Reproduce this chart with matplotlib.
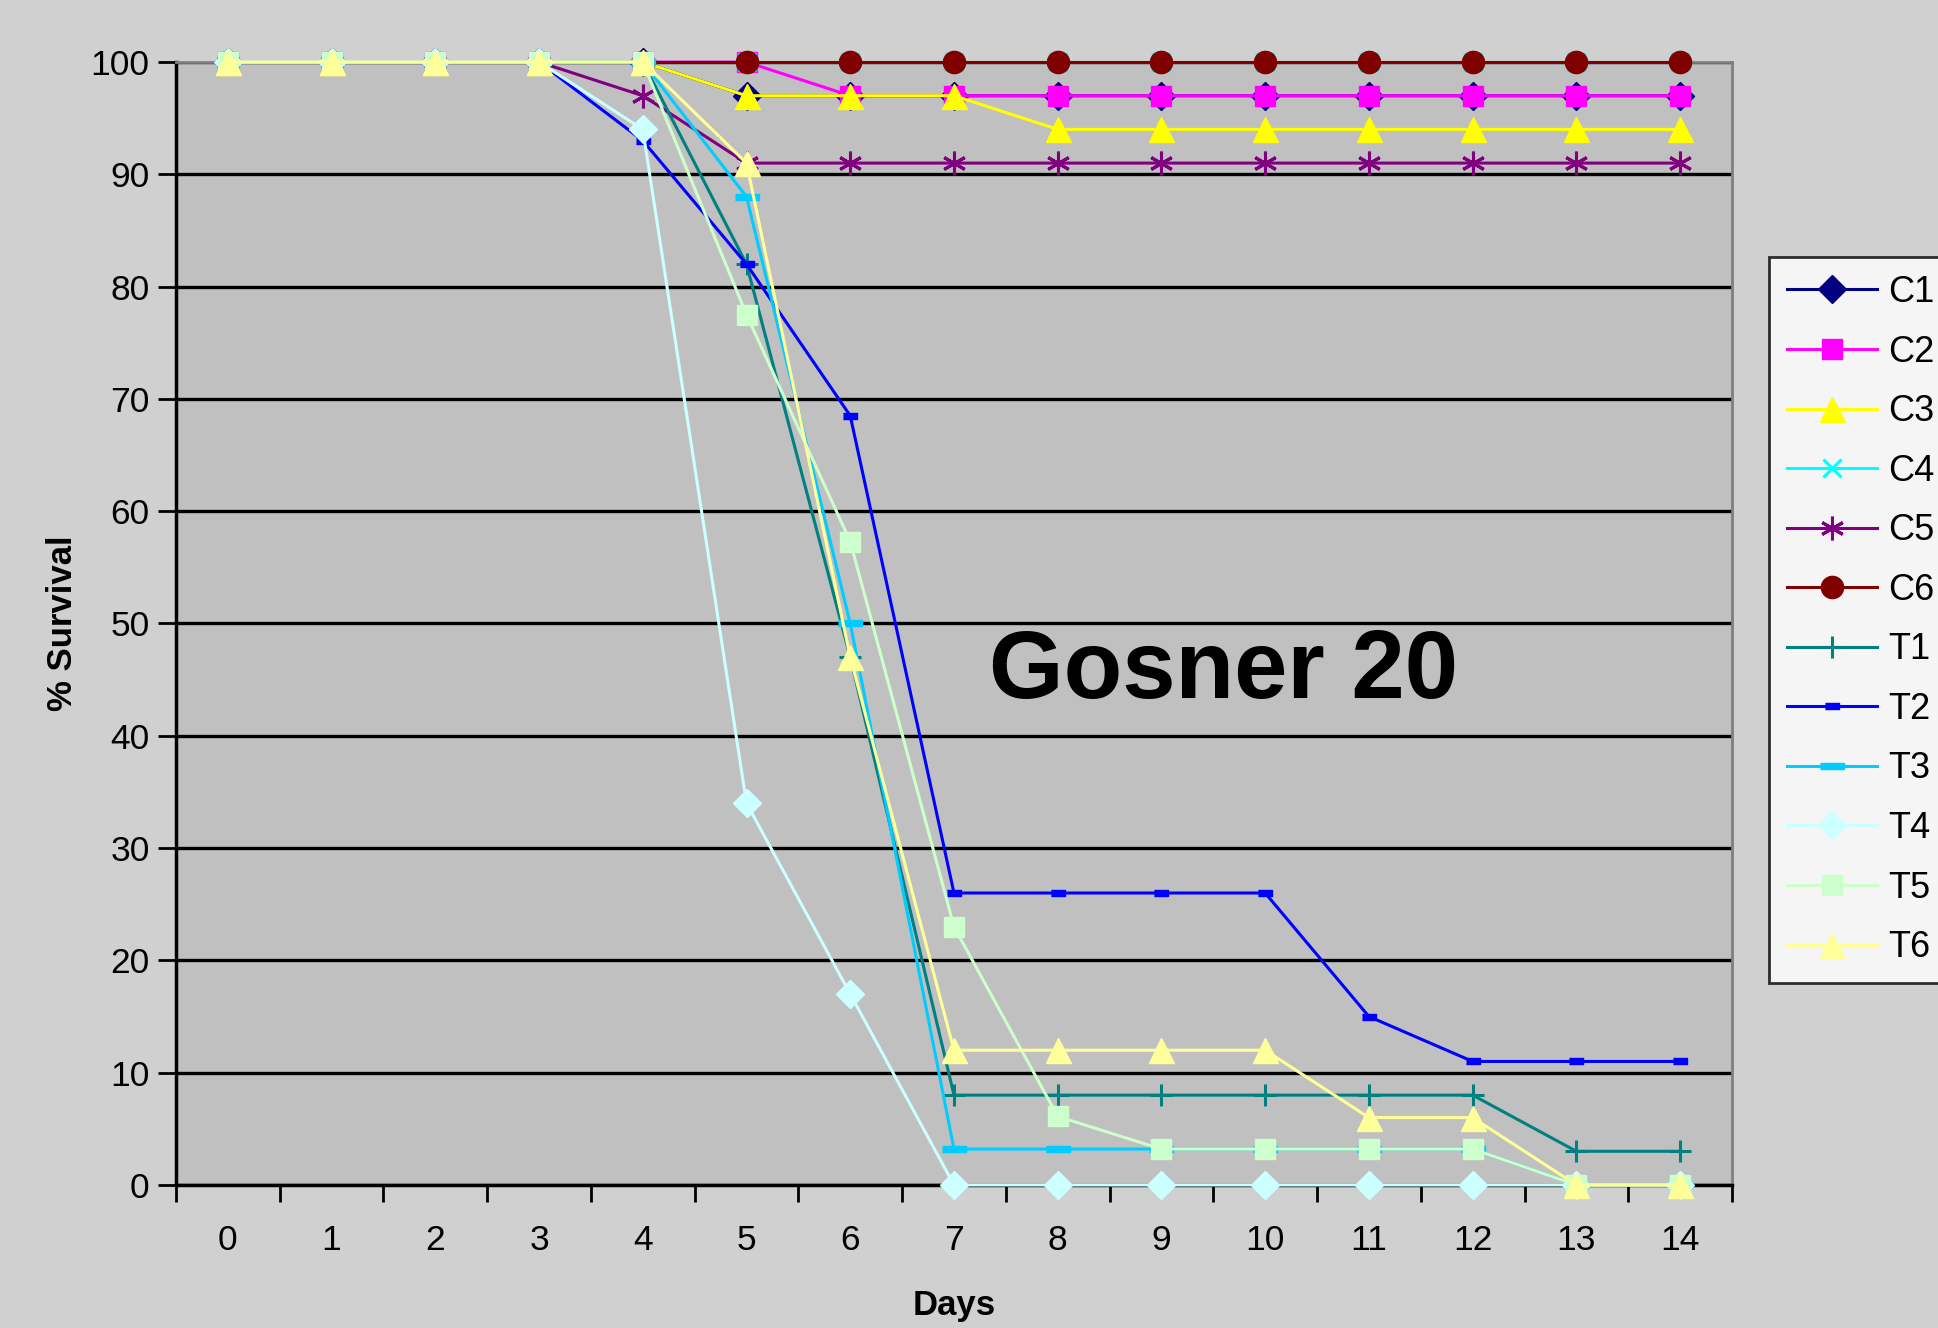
import numpy as np
import matplotlib
matplotlib.use("Agg")
import matplotlib.pyplot as plt
from matplotlib.ticker import MultipleLocator

plt.rcParams['font.family'] = ['Liberation Sans', 'DejaVu Sans']

# 데이터
days = list(range(15))
C1 = [100, 100, 100, 100, 100, 97, 97, 97, 97, 97, 97, 97, 97, 97, 97]
C2 = [100, 100, 100, 100, 100, 100, 97, 97, 97, 97, 97, 97, 97, 97, 97]
C3 = [100, 100, 100, 100, 100, 97, 97, 97, 94, 94, 94, 94, 94, 94, 94]
C4 = [100] * 15
C5 = [100, 100, 100, 100, 97, 91, 91, 91, 91, 91, 91, 91, 91, 91, 91]
C6 = [100] * 15
T1 = [100, 100, 100, 100, 100, 82, 47, 8, 8, 8, 8, 8, 8, 3, 3]
T2 = [100, 100, 100, 100, 93, 82, 68.5, 26, 26, 26, 26, 15, 11, 11, 11]
T3 = [100, 100, 100, 100, 100, 88, 50, 3.2, 3.2, 3.2, 3.2, 3.2, 3.2, 0, 0]
T4 = [100, 100, 100, 100, 94, 34, 17, 0, 0, 0, 0, 0, 0, 0, 0]
T5 = [100, 100, 100, 100, 100, 77.5, 57.3, 23, 6.1, 3.2, 3.2, 3.2, 3.2, 0, 0]
T6 = [100, 100, 100, 100, 100, 91, 47, 12, 12, 12, 12, 6, 6, 0, 0]

short_dash = [(-1, -0.4), (1, -0.4), (1, 0.4), (-1, 0.4)]
long_dash = [(-1, -0.22), (1, -0.22), (1, 0.22), (-1, 0.22)]

series = [
    ("C1", C1, "#000080", "D", 14),
    ("C2", C2, "#FF00FF", "s", 15),
    ("C3", C3, "#FFFF00", "^", 18),
    ("C4", C4, "#00FFFF", "x", 13),
    ("C5", C5, "#800080", (6, 2, 0), 17),
    ("C6", C6, "#800000", "o", 16),
    ("T1", T1, "#008080", "+", 16),
    ("T2", T2, "#0000FF", short_dash, 10),
    ("T3", T3, "#00CCFF", long_dash, 17),
    ("T4", T4, "#CCFFFF", "D", 14),
    ("T5", T5, "#CCFFCC", "s", 15),
    ("T6", T6, "#FFFF99", "^", 18),
]

fig = plt.figure(figsize=(19.38, 13.28), dpi=100, facecolor="#CFD0CF")
ax = fig.add_axes([0.0908, 0.1077, 0.8029, 0.8456])
ax.set_facecolor("#C0C0C0")

for name, vals, col, mk, ms in series:
    lw_m = 2.2 if mk in ("x", "+", (6, 2, 0)) else 1
    ax.plot(days, vals, color=col, lw=2.2, marker=mk, markersize=ms,
            markerfacecolor=col, markeredgecolor=col, markeredgewidth=lw_m,
            label=name, clip_on=False, zorder=3)

ax.set_xlim(-0.5, 14.5)
ax.set_ylim(0, 100)
ax.yaxis.set_major_locator(MultipleLocator(10))
ax.set_xticks(days)
ax.set_xticks(np.arange(-0.5, 15, 1), minor=True)
ax.tick_params(axis='x', which='major', length=0, labelsize=25.5, pad=28)
ax.tick_params(axis='x', which='minor', length=12, width=2, direction='out')
ax.tick_params(axis='y', length=13, width=2, direction='out', labelsize=25.5, pad=6)

ax.grid(axis='y', color='black', lw=2.4, zorder=1)
ax.set_axisbelow(True)
for s in ("top", "right"):
    ax.spines[s].set_color("#808080")
    ax.spines[s].set_linewidth(2)
for s in ("left", "bottom"):
    ax.spines[s].set_color("black")
    ax.spines[s].set_linewidth(2.5)

ax.set_xlabel("Days", fontsize=25, fontweight='bold', labelpad=23)
ax.set_ylabel("% Survival", fontsize=25, fontweight='bold', labelpad=8)

ax.text(0.6735, 0.456, "Gosner 20", transform=ax.transAxes, fontsize=69,
        fontweight='bold', ha='center', va='center')

leg = fig.legend(loc='upper left', bbox_to_anchor=(1769 / 1938, 1 - 257 / 1328),
                 fontsize=26, frameon=True, fancybox=False, edgecolor='black',
                 facecolor='white', handlelength=2.5, handletextpad=0.3,
                 labelspacing=0.68, borderpad=0.5, borderaxespad=0)
leg.get_frame().set_linewidth(2)

plt.savefig("out.png", dpi=100, facecolor=fig.get_facecolor())
